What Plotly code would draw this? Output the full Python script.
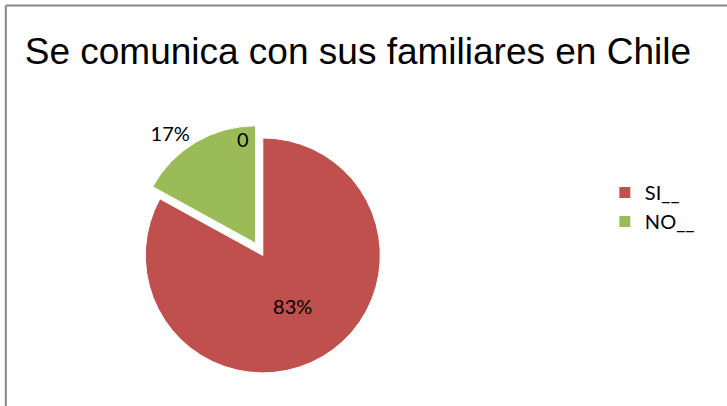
import plotly.graph_objects as go

# Data
labels = ['SI__', 'NO__']
values = [83, 17]
slice_text = ['83%', '17%']
colors = ['#C0504D', '#9BBB59']
extra_label = '0'

fig = go.Figure()

fig.add_trace(go.Pie(
    labels=labels,
    values=values,
    text=slice_text,
    textinfo='text',
    textposition=['inside', 'outside'],
    sort=False,
    direction='clockwise',
    rotation=0,
    pull=[0, 0.12],
    marker=dict(colors=colors, line=dict(color='white', width=1)),
    textfont=dict(family='Lato, Open Sans, sans-serif', size=20, color='black'),
    domain=dict(x=[0.165, 0.558], y=[0.0, 0.68]),
    showlegend=True,
))

# stray "0" label next to the NO percentage
fig.add_annotation(
    text=extra_label, x=0.334, y=0.64, xref='paper', yref='paper',
    showarrow=False, font=dict(family='Lato, Open Sans, sans-serif', size=20, color='black')
)

# chart frame: only the left and top edges fall inside the picture
fig.add_shape(type='line', xref='paper', yref='paper',
              x0=0.008, y0=0.986, x1=1.2, y1=0.986,
              line=dict(color='#868686', width=2))
fig.add_shape(type='line', xref='paper', yref='paper',
              x0=0.008, y0=-0.2, x1=0.008, y1=0.986,
              line=dict(color='#868686', width=2))

fig.update_layout(
    width=727,
    height=406,
    margin=dict(l=0, r=0, t=0, b=0),
    paper_bgcolor='white',
    plot_bgcolor='white',
    title=dict(
        text='Se comunica con sus familiares en Chile',
        x=0.034, xref='container', xanchor='left',
        y=0.875, yref='container', yanchor='middle',
        font=dict(family='Liberation Sans, Arial, sans-serif', size=37, color='black')
    ),
    legend=dict(
        x=0.832, y=0.465, xanchor='left', yanchor='middle',
        font=dict(family='Lato, Open Sans, sans-serif', size=20, color='black'),
        itemwidth=30,
    ),
)

# drop the page's default body margin so the figure sits at the window's corner
fig.write_html('out.html', config={'displayModeBar': False},
               post_script="document.body.style.margin='0';")
